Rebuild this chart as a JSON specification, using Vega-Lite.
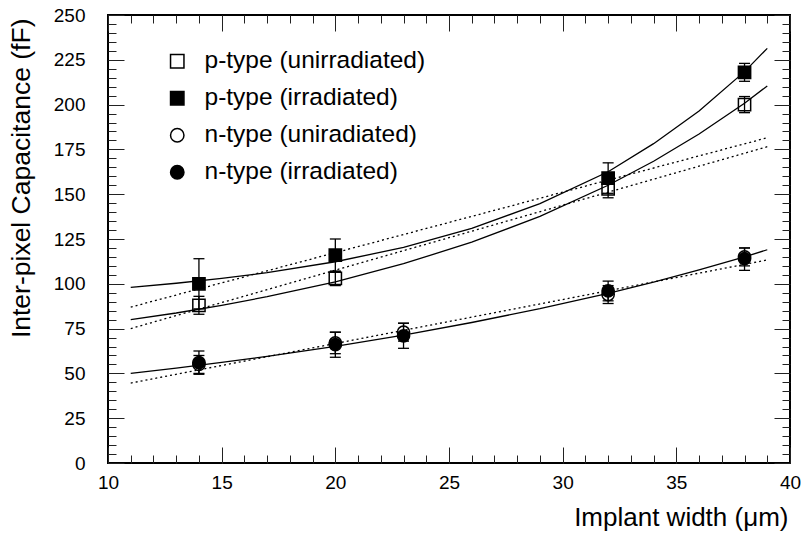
{
  "$schema": "https://vega.github.io/schema/vega-lite/v6.json",
  "width": 682,
  "height": 448,
  "autosize": "none",
  "padding": {"left": 108, "top": 15, "right": 14, "bottom": 70},
  "background": "white",
  "config": {
    "view": {"stroke": "black", "strokeWidth": 2},
    "font": "Liberation Sans",
    "axis": {"grid": false, "labelColor": "black", "titleColor": "black", "labelOverlap": false, "labelFlush": false, "zindex": 1}
  },
  "datasets": {
    "points": [
      {"series": "p-type (unirradiated)", "x": 14, "y": 88, "lo": 83, "hi": 93},
      {"series": "p-type (unirradiated)", "x": 20, "y": 103, "lo": 99, "hi": 107},
      {"series": "p-type (unirradiated)", "x": 32, "y": 153, "lo": 148, "hi": 158},
      {"series": "p-type (unirradiated)", "x": 38, "y": 200, "lo": 195.5, "hi": 204.5},
      {"series": "p-type (irradiated)", "x": 14, "y": 100, "lo": 86, "hi": 114},
      {"series": "p-type (irradiated)", "x": 20, "y": 116, "lo": 107, "hi": 125},
      {"series": "p-type (irradiated)", "x": 32, "y": 159, "lo": 150.5, "hi": 167.5},
      {"series": "p-type (irradiated)", "x": 38, "y": 218, "lo": 213, "hi": 223},
      {"series": "n-type (uniradiated)", "x": 14, "y": 55, "lo": 50, "hi": 60},
      {"series": "n-type (uniradiated)", "x": 20, "y": 67, "lo": 61, "hi": 73},
      {"series": "n-type (uniradiated)", "x": 23, "y": 73, "lo": 68, "hi": 78},
      {"series": "n-type (uniradiated)", "x": 32, "y": 94, "lo": 89, "hi": 99},
      {"series": "n-type (uniradiated)", "x": 38, "y": 115, "lo": 110, "hi": 120},
      {"series": "n-type (irradiated)", "x": 14, "y": 56, "lo": 49.5, "hi": 62.5},
      {"series": "n-type (irradiated)", "x": 20, "y": 66, "lo": 59, "hi": 73},
      {"series": "n-type (irradiated)", "x": 23, "y": 71, "lo": 64, "hi": 78},
      {"series": "n-type (irradiated)", "x": 32, "y": 96, "lo": 90.5, "hi": 101.5},
      {"series": "n-type (irradiated)", "x": 38, "y": 114, "lo": 107.5, "hi": 120}
    ],
    "solid": [
      {"curve": "p-irr", "x": 11, "y": 98},
      {"curve": "p-irr", "x": 13, "y": 100.3},
      {"curve": "p-irr", "x": 15, "y": 103},
      {"curve": "p-irr", "x": 17, "y": 106.2},
      {"curve": "p-irr", "x": 20, "y": 112.3},
      {"curve": "p-irr", "x": 23, "y": 120.3},
      {"curve": "p-irr", "x": 26, "y": 130.9},
      {"curve": "p-irr", "x": 29, "y": 144.7},
      {"curve": "p-irr", "x": 32, "y": 162.5},
      {"curve": "p-irr", "x": 34, "y": 178.2},
      {"curve": "p-irr", "x": 36, "y": 196.4},
      {"curve": "p-irr", "x": 38, "y": 218.4},
      {"curve": "p-irr", "x": 39, "y": 231.4},
      {"curve": "p-unirr", "x": 11, "y": 80},
      {"curve": "p-unirr", "x": 13, "y": 83.7},
      {"curve": "p-unirr", "x": 15, "y": 88},
      {"curve": "p-unirr", "x": 17, "y": 92.8},
      {"curve": "p-unirr", "x": 20, "y": 101.1},
      {"curve": "p-unirr", "x": 23, "y": 111.2},
      {"curve": "p-unirr", "x": 26, "y": 123.2},
      {"curve": "p-unirr", "x": 29, "y": 137.6},
      {"curve": "p-unirr", "x": 32, "y": 155},
      {"curve": "p-unirr", "x": 34, "y": 168.4},
      {"curve": "p-unirr", "x": 36, "y": 183.6},
      {"curve": "p-unirr", "x": 38, "y": 200.8},
      {"curve": "p-unirr", "x": 39, "y": 210.4},
      {"curve": "n", "x": 11, "y": 50},
      {"curve": "n", "x": 13, "y": 53},
      {"curve": "n", "x": 15, "y": 56.1},
      {"curve": "n", "x": 17, "y": 59.5},
      {"curve": "n", "x": 20, "y": 65.1},
      {"curve": "n", "x": 23, "y": 71.4},
      {"curve": "n", "x": 26, "y": 78.4},
      {"curve": "n", "x": 29, "y": 86.1},
      {"curve": "n", "x": 32, "y": 94.7},
      {"curve": "n", "x": 34, "y": 101},
      {"curve": "n", "x": 36, "y": 107.8},
      {"curve": "n", "x": 38, "y": 115},
      {"curve": "n", "x": 39, "y": 119}
    ],
    "dotted": [
      {"curve": "p-irr", "x": 11, "y": 87},
      {"curve": "p-irr", "x": 39, "y": 181.5},
      {"curve": "p-unirr", "x": 11, "y": 75},
      {"curve": "p-unirr", "x": 39, "y": 176.5},
      {"curve": "n", "x": 11, "y": 44.6},
      {"curve": "n", "x": 39, "y": 113.3}
    ]
  },
  "layer": [
    {
      "data": {"name": "solid"},
      "mark": {"type": "line", "color": "black", "strokeWidth": 1.3},
      "encoding": {
        "x": {"field": "x", "type": "quantitative", "scale": {"domain": [10, 40], "nice": false, "zero": false},
          "axis": {"orient": "bottom", "zindex": 1, "values": [10, 15, 20, 25, 30, 35, 40], "ticks": true, "tickSize": -16, "tickColor": "#222", "tickOpacity": 1, "domain": false, "labelPadding": 26, "labelFontSize": 19,
            "title": "Implant width (μm)", "titleFontSize": 26, "titleFontWeight": "normal", "titleAnchor": "end", "titleAlign": "right", "titleX": 680, "titleY": 62, "titleBaseline": "alphabetic"}},
        "y": {"field": "y", "type": "quantitative", "scale": {"domain": [0, 250], "nice": false, "zero": false},
          "axis": {"orient": "left", "zindex": 1, "values": [0, 25, 50, 75, 100, 125, 150, 175, 200, 225, 250], "ticks": true, "tickSize": -16, "tickColor": "#222", "tickOpacity": 1, "domain": false, "labelPadding": 39, "labelFontSize": 19,
            "title": "Inter-pixel Capacitance (fF)", "titleFontSize": 26.5, "titleFontWeight": "normal", "titleAnchor": "end", "titleAlign": "right", "titleAngle": -90, "titleX": -79, "titleY": 3, "titleBaseline": "alphabetic"}},
        "detail": {"field": "curve"}
      }
    },
    {
      "data": {"name": "dotted"},
      "mark": {"type": "line", "color": "black", "strokeWidth": 1.3, "strokeDash": [2, 3]},
      "encoding": {
        "x": {"field": "x", "type": "quantitative", "scale": {"domain": [10, 40], "nice": false, "zero": false},
          "axis": {"orient": "top", "zindex": 1, "values": [10, 15, 20, 25, 30, 35, 40], "labels": false, "domain": false, "ticks": true, "tickColor": "#222", "tickOpacity": 1, "offset": -16, "tickSize": 16, "title": null}},
        "y": {"field": "y", "type": "quantitative", "scale": {"domain": [0, 250], "nice": false, "zero": false},
          "axis": {"orient": "right", "zindex": 1, "values": [0, 25, 50, 75, 100, 125, 150, 175, 200, 225, 250], "labels": false, "domain": false, "ticks": true, "tickColor": "#222", "tickOpacity": 1, "tickSize": -16, "title": null}},
        "detail": {"field": "curve"}
      }
    },
    {
      "data": {"name": "points"},
      "mark": {"type": "rule", "color": "black", "strokeWidth": 1.3},
      "encoding": {
        "x": {"field": "x", "type": "quantitative", "scale": {"domain": [10, 40], "nice": false, "zero": false},
          "axis": {"orient": "bottom", "zindex": 1, "tickCount": 30, "labels": false, "domain": false, "ticks": true, "tickColor": "#222", "tickOpacity": 1, "offset": -8, "tickSize": 8, "title": null}},
        "y": {"field": "lo", "type": "quantitative", "scale": {"domain": [0, 250], "nice": false, "zero": false},
          "axis": {"orient": "left", "zindex": 1, "tickCount": 50, "labels": false, "domain": false, "ticks": true, "tickColor": "#222", "tickOpacity": 1, "offset": -8, "tickSize": 8, "title": null}},
        "y2": {"field": "hi"}
      }
    },
    {
      "data": {"name": "points"},
      "transform": [{"fold": ["lo", "hi"], "as": ["end", "cap"]}],
      "mark": {"type": "point", "shape": "stroke", "filled": false, "color": "black", "size": 121, "strokeWidth": 1.3, "opacity": 1},
      "encoding": {
        "x": {"field": "x", "type": "quantitative", "scale": {"domain": [10, 40], "nice": false, "zero": false},
          "axis": {"orient": "top", "zindex": 1, "tickCount": 30, "labels": false, "domain": false, "ticks": true, "tickColor": "#222", "tickOpacity": 1, "offset": -8, "tickSize": 8, "title": null}},
        "y": {"field": "cap", "type": "quantitative", "scale": {"domain": [0, 250], "nice": false, "zero": false},
          "axis": {"orient": "right", "zindex": 1, "tickCount": 50, "labels": false, "domain": false, "ticks": true, "tickColor": "#222", "tickOpacity": 1, "offset": -8, "tickSize": 8, "title": null}}
      }
    },
    {
      "data": {"name": "points"},
      "mark": {"type": "point", "filled": true, "size": 150, "opacity": 1, "strokeWidth": 1.5},
      "encoding": {
        "x": {"field": "x", "type": "quantitative", "scale": {"domain": [10, 40], "nice": false, "zero": false}, "axis": null},
        "y": {"field": "y", "type": "quantitative", "scale": {"domain": [0, 250], "nice": false, "zero": false}, "axis": null},
        "stroke": {"value": "black"},
        "shape": {"field": "series", "type": "nominal",
          "scale": {"domain": ["p-type (unirradiated)", "p-type (irradiated)", "n-type (uniradiated)", "n-type (irradiated)"], "range": ["square", "square", "circle", "circle"]},
          "legend": {"title": null, "orient": "none", "legendX": 57, "legendY": 34, "padding": 0, "labelFontSize": 24.5, "labelColor": "black", "labelLimit": 400, "symbolSize": 180, "rowPadding": 12, "labelOffset": 15,
            "encode": {"symbols": {"update": {"stroke": {"value": "black"}, "strokeWidth": {"value": 1.5}}}}}},
        "fill": {"field": "series", "type": "nominal",
          "scale": {"domain": ["p-type (unirradiated)", "p-type (irradiated)", "n-type (uniradiated)", "n-type (irradiated)"], "range": ["transparent", "black", "transparent", "black"]},
          "legend": {"title": null, "orient": "none", "legendX": 57, "legendY": 34, "padding": 0, "labelFontSize": 24.5, "labelColor": "black", "labelLimit": 400, "symbolSize": 180, "rowPadding": 12, "labelOffset": 15,
            "encode": {"symbols": {"update": {"stroke": {"value": "black"}, "strokeWidth": {"value": 1.5}}}}}}
      }
    }
  ],
  "resolve": {"scale": {"x": "independent", "y": "independent"}, "axis": {"x": "independent", "y": "independent"}}
}
